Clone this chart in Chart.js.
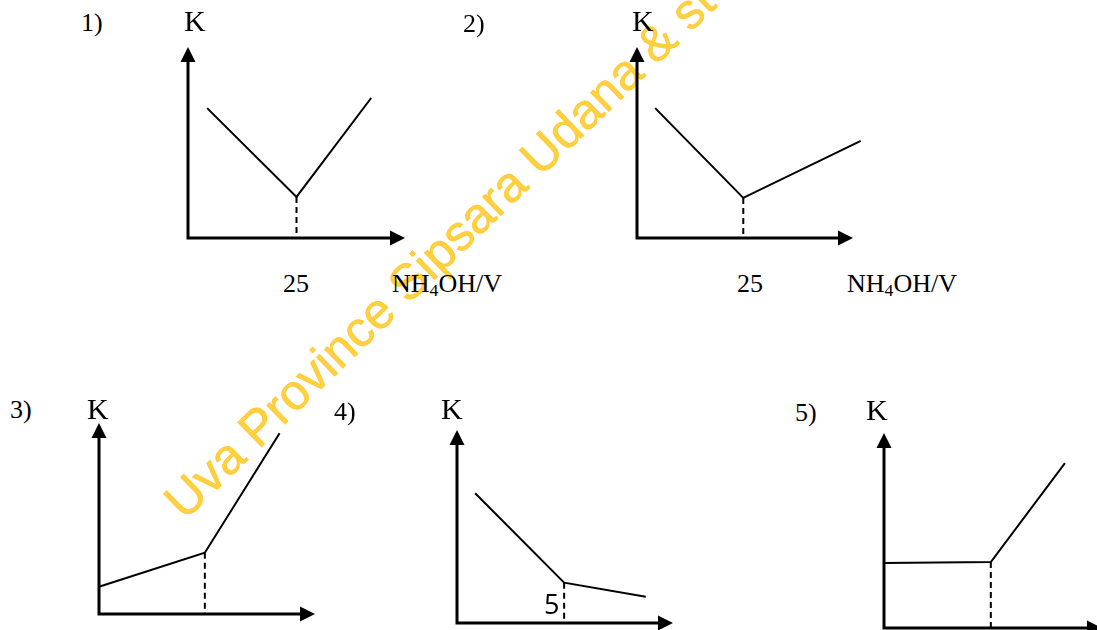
<!DOCTYPE html>
<html>
<head>
<meta charset="utf-8">
<script src="https://cdn.jsdelivr.net/npm/chart.js@4/dist/chart.umd.min.js"></script>
<style>
  html, body { margin: 0; padding: 0; background: #fff; }
  body { width: 1097px; height: 630px; position: relative; overflow: hidden; }
  .wm { position: absolute; font-family: "Liberation Sans", Arial, sans-serif; font-size: 50px;
        line-height: 50px; color: rgba(255, 192, 0, 0.74); white-space: nowrap;
        transform-origin: 0 100%; transform: rotate(-44deg); z-index: 0;
        -webkit-text-stroke: 0.6px rgba(255, 192, 0, 0.74); }
  canvas.c { position: absolute; z-index: 1; }
  .t { position: absolute; font-family: "Liberation Serif", "Times New Roman", serif; font-size: 26px;
       line-height: 26px; color: #000; white-space: nowrap; z-index: 2; }
  .k { font-size: 30px; line-height: 30px; }
  .sans { font-family: "Open Sans", "DejaVu Sans", sans-serif; font-size: 27px; line-height: 27px; }
  sub { font-size: 0.68em; vertical-align: -0.22em; line-height: 0; }
</style>
</head>
<body>
<div class="wm" style="left:190px; top:477px;">Uva Province Sipsara Udana &amp; st</div>

<canvas class="c" id="g1"></canvas>
<canvas class="c" id="g2"></canvas>
<canvas class="c" id="g3"></canvas>
<canvas class="c" id="g4"></canvas>
<canvas class="c" id="g5"></canvas>

<div class="t" style="left:81px; top:10px;">1)</div>
<div class="t k" style="left:184px; top:6px;">K</div>
<div class="t" style="left:283px; top:271px;">25</div>
<div class="t" style="left:392px; top:271px;">NH<sub>4</sub>OH/V</div>

<div class="t" style="left:463px; top:11px;">2)</div>
<div class="t k" style="left:632px; top:6px;">K</div>
<div class="t" style="left:737px; top:271px;">25</div>
<div class="t" style="left:847px; top:271px;">NH<sub>4</sub>OH/V</div>

<div class="t" style="left:10px; top:397px;">3)</div>
<div class="t k" style="left:87px; top:394px;">K</div>

<div class="t" style="left:334px; top:399px;">4)</div>
<div class="t k" style="left:441px; top:394px;">K</div>
<div class="t sans" style="left:544px; top:590px;">5</div>

<div class="t" style="left:795px; top:400px;">5)</div>
<div class="t k" style="left:866px; top:395px;">K</div>

<script>
// ---- data (x: volume units 0-50, K: relative 0-100) ----
const graph1X = [4.4, 25, 42.2];
const graph1K = [68, 21.5, 73.3];
const graph2X = [4.2, 24.6, 51.8];
const graph2K = [68, 21, 50.9];
const graph3X = [0, 24.5, 41.8];
const graph3K = [14.3, 32.1, 94.6];
const graph4X = [4.2, 24.8, 43.7];
const graph4K = [67.2, 20.9, 13.6];
const graph5X = [0, 24.5, 41.5];
const graph5K = [33.3, 33.8, 84.6];
const vertexIndex = 1;
const xMax = 50;
const kMax = 100;

// ---- layout of each small graph (axis box in page pixels) ----
const PAD = 20;
const boxes = {
  g1: { left: 188, top: 47, right: 405, bottom: 238 },
  g2: { left: 637, top: 47, right: 853, bottom: 238 },
  g3: { left: 99, top: 423, right: 315, bottom: 614 },
  g4: { left: 457, top: 430, right: 673, bottom: 623 },
  g5: { left: 884, top: 433, right: 1102, bottom: 628 }
};

const arrowAxes = {
  id: 'arrowAxes',
  afterDatasetsDraw(chart) {
    const ctx = chart.ctx;
    const xs = chart.scales.x, ys = chart.scales.y;
    const x0 = xs.getPixelForValue(0), x1 = xs.getPixelForValue(xMax);
    const y0 = ys.getPixelForValue(0), y1 = ys.getPixelForValue(kMax);
    const L = 15, W = 7.5;
    ctx.save();
    ctx.strokeStyle = '#000';
    ctx.fillStyle = '#000';
    ctx.lineWidth = 3;
    ctx.lineCap = 'butt';
    ctx.beginPath();
    ctx.moveTo(x0, y0 + 1.5); ctx.lineTo(x0, y1 + L - 1);
    ctx.moveTo(x0 - 1.5, y0); ctx.lineTo(x1 - L + 1, y0);
    ctx.stroke();
    // arrow heads
    ctx.beginPath();
    ctx.moveTo(x0, y1); ctx.lineTo(x0 - W, y1 + L); ctx.lineTo(x0 + W, y1 + L); ctx.closePath();
    ctx.fill();
    ctx.beginPath();
    ctx.moveTo(x1, y0); ctx.lineTo(x1 - L, y0 - W); ctx.lineTo(x1 - L, y0 + W); ctx.closePath();
    ctx.fill();
    ctx.restore();
  }
};

function makeGraph(id, xs, ks) {
  const b = boxes[id];
  const cv = document.getElementById(id);
  const w = b.right - b.left + 2 * PAD, h = b.bottom - b.top + 2 * PAD;
  cv.style.left = (b.left - PAD) + 'px';
  cv.style.top = (b.top - PAD) + 'px';
  cv.style.width = w + 'px';
  cv.style.height = h + 'px';
  cv.width = w; cv.height = h;
  const pts = xs.map((x, i) => ({ x: x, y: ks[i] }));
  const v = pts[vertexIndex];
  new Chart(cv, {
    type: 'line',
    data: {
      datasets: [
        { data: pts, borderColor: '#000', borderWidth: 2, pointRadius: 0, tension: 0, clip: false, fill: false },
        { data: [{ x: v.x, y: v.y }, { x: v.x, y: 0 }], borderColor: '#000', borderWidth: 2,
          borderDash: [6, 4], pointRadius: 0, clip: false, fill: false }
      ]
    },
    options: {
      responsive: false,
      animation: false,
      events: [],
      layout: { padding: PAD },
      plugins: { legend: { display: false }, tooltip: { enabled: false } },
      scales: {
        x: { type: 'linear', min: 0, max: xMax, display: false },
        y: { type: 'linear', min: 0, max: kMax, display: false }
      }
    },
    plugins: [arrowAxes]
  });
}

makeGraph('g1', graph1X, graph1K);
makeGraph('g2', graph2X, graph2K);
makeGraph('g3', graph3X, graph3K);
makeGraph('g4', graph4X, graph4K);
makeGraph('g5', graph5X, graph5K);
</script>
</body>
</html>
